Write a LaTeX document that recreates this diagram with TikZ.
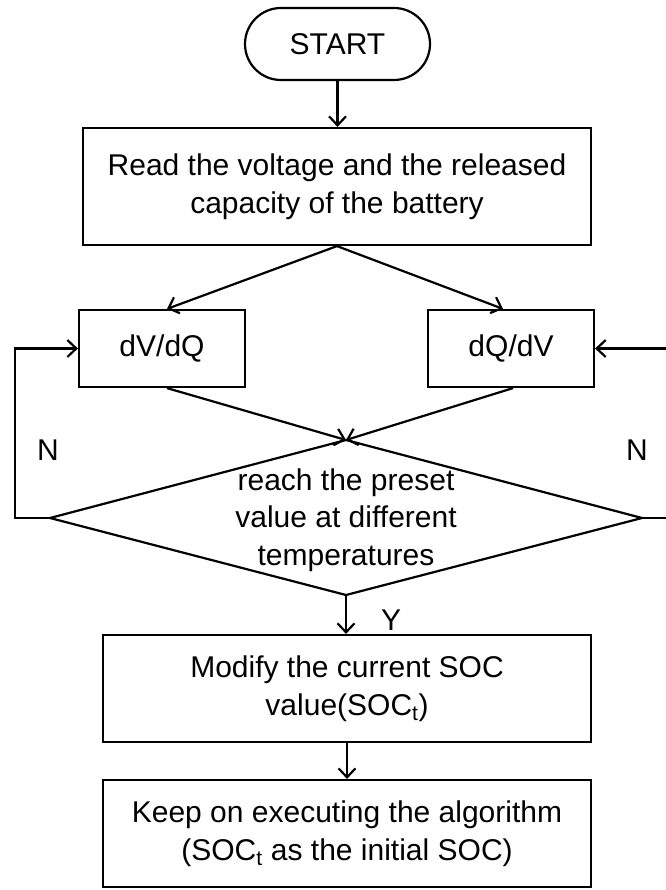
\documentclass[tikz,border=0pt]{standalone}
\usepackage{fontspec}
\setmainfont{Liberation Sans}
\usetikzlibrary{shapes.misc,arrows.meta}
\begin{document}
\begin{tikzpicture}[x=1pt,y=-1pt,
  line width=2.2pt,
  every node/.style={font=\fontsize{30}{37.5}\selectfont, inner sep=0pt},
  proc/.style={draw, rectangle, align=center},
  term/.style={draw, rounded rectangle, minimum width=185pt, minimum height=72pt},
  arr/.style={-{Straight Barb[length=9pt,width=17pt,line width=2.2pt]}},
  lbl/.style={font=\fontsize{30}{37.5}\selectfont}
]
\useasboundingbox (0,0) rectangle (665,890);
\node[term] (start) at (337.5,44) {START};
\node[proc, minimum width=508pt, minimum height=117pt] (read) at (337,186.5)
  {Read the voltage and the released\\capacity of the battery};
\node[proc, minimum width=166pt, minimum height=77pt] (dvdq) at (162,348.5) {dV/dQ};
\node[proc, minimum width=166pt, minimum height=77pt] (dqdv) at (511,348.5) {dQ/dV};
\coordinate (dtop) at (346,440);
\coordinate (dleft) at (50,518);
\coordinate (dright) at (642,518);
\coordinate (dbot) at (346,595);
\draw (dtop) -- (dright) -- (dbot) -- (dleft) -- cycle;
\node[align=center] (dtext) at (346,520) {reach the preset\\value at different\\temperatures};
\node[proc, minimum width=488pt, minimum height=107pt] (modify) at (347,688.5)
  {Modify the current SOC\\value(SOC\textsubscript{t})};
\node[proc, minimum width=488pt, minimum height=107pt] (keep) at (347,833.5)
  {Keep on executing the algorithm\\(SOC\textsubscript{t} as the initial SOC)};
\draw[arr] (start.south) -- (start.south |- read.north);
\draw[arr] (read.south) -- ([xshift=5pt]dvdq.north);
\draw[arr] (read.south) -- ([xshift=-8pt]dqdv.north);
\draw[arr] ([xshift=5pt]dvdq.south) -- (dtop);
\draw[arr] ([xshift=2pt]dqdv.south) -- (dtop);
\draw[arr] (dleft) -- ++(-35,0) |- (dvdq.west);
\draw[arr] (dright) -- ++(26,0) |- (dqdv.east);
\draw[arr] (dbot) -- (dbot |- modify.north);
\draw[arr] (modify.south) -- (keep.north);
\node[lbl] (nleft) at (48,450) {N};
\node[lbl] (nright) at (637,450) {N};
\node[lbl] (yes) at (391,620) {Y};
\end{tikzpicture}
\end{document}
